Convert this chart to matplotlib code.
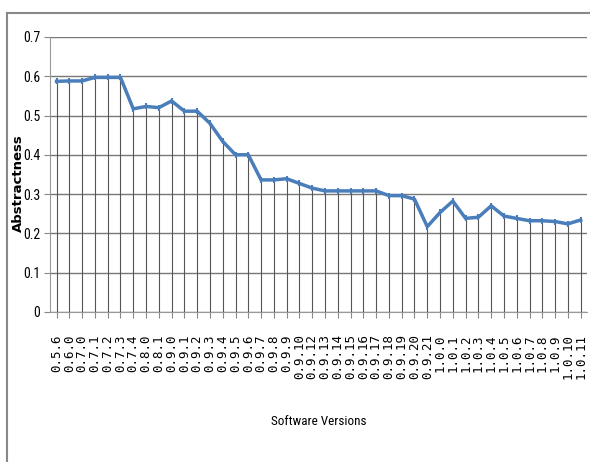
import matplotlib.pyplot as plt
from matplotlib.lines import Line2D

versions = ['0.5.6', '0.6.0', '0.7.0', '0.7.1', '0.7.2', '0.7.3', '0.7.4', '0.8.0', '0.8.1',
            '0.9.0', '0.9.1', '0.9.2', '0.9.3', '0.9.4', '0.9.5', '0.9.6', '0.9.7', '0.9.8',
            '0.9.9', '0.9.10', '0.9.12', '0.9.13', '0.9.14', '0.9.15', '0.9.16', '0.9.17',
            '0.9.18', '0.9.19', '0.9.20', '0.9.21', '1.0.0', '1.0.1', '1.0.2', '1.0.3',
            '1.0.4', '1.0.5', '1.0.6', '1.0.7', '1.0.8', '1.0.9', '1.0.10', '1.0.11']
abstractness = [0.587, 0.588, 0.588, 0.597, 0.597, 0.597, 0.517, 0.523, 0.520,
                0.537, 0.511, 0.511, 0.480, 0.434, 0.400, 0.400, 0.336, 0.336,
                0.339, 0.327, 0.315, 0.308, 0.308, 0.308, 0.308, 0.308, 0.296,
                0.296, 0.287, 0.217, 0.253, 0.282, 0.238, 0.241, 0.270, 0.244,
                0.238, 0.232, 0.232, 0.230, 0.224, 0.234]
yticks = [0, 0.1, 0.2, 0.3, 0.4, 0.5, 0.6, 0.7]
ytick_labels = ['0', '0.1', '0.2', '0.3', '0.4', '0.5', '0.6', '0.7']

narrow = ['Liberation Sans Narrow', 'Roboto Condensed', 'Open Sans Condensed', 'Liberation Sans']

fig = plt.figure(figsize=(5.9, 4.62), dpi=100)
ax = fig.add_axes([0.085, 0.325, 0.91, 0.595])

x = list(range(len(versions)))
ax.vlines(x, 0, abstractness, color='#555555', lw=0.8, zorder=1)
ax.plot(x, abstractness, color='#4a7ebb', lw=2.5, marker='|', ms=4, mew=1.5, zorder=3)

ax.set_xlim(-0.5, len(versions) - 0.5)
ax.set_ylim(0, 0.7)
ax.set_yticks(yticks)
ax.set_yticklabels(ytick_labels, family=narrow, fontsize=10)
ax.set_xticks(x)
ax.set_xticklabels(versions, rotation=90, fontsize=9, family='DejaVu Sans Mono')
ax.tick_params(axis='x', length=4, color='#888888', pad=12)
ax.tick_params(axis='y', length=4, color='#888888', pad=3)
ax.grid(axis='y', color='#777777', lw=1)
ax.set_axisbelow(True)
for s in ['top', 'right']:
    ax.spines[s].set_visible(False)
for s in ['left', 'bottom']:
    ax.spines[s].set_color('#999999')

fig.text(0.031, 0.604, 'Abstractness', rotation=90, ha='center', va='center',
         fontweight='bold', fontsize=9.5, family='DejaVu Sans')
fig.text(0.54, 0.087, 'Software Versions', ha='center', va='center', family=narrow, fontsize=9.5)

# screenshot frame on top and left
fig.add_artist(Line2D([0.012, 1.0], [0.972, 0.972], color='#888888', lw=1.5))
fig.add_artist(Line2D([0.012, 0.012], [0.0, 0.972], color='#888888', lw=1.5))

fig.savefig('out.png', dpi=100)
